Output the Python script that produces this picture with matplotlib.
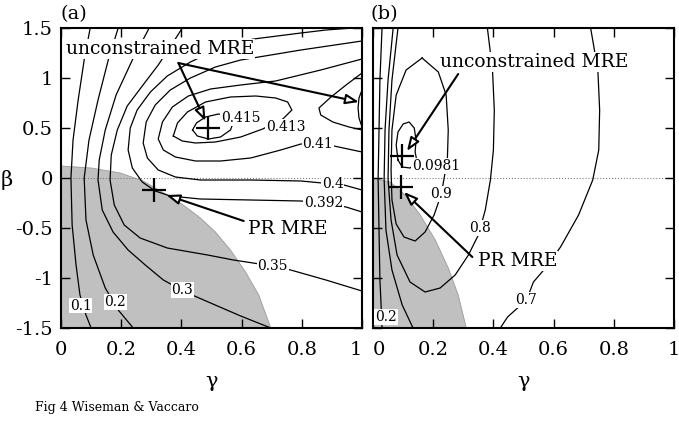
import matplotlib.pyplot as plt

plt.rcParams['font.family'] = ['DejaVu Serif']
plt.rcParams['axes.unicode_minus'] = False

# ---------------- panel (a): contour lines, (gamma, beta)
a010_g = [0.097, 0.077, 0.057, 0.04, 0.033, 0.037, 0.05, 0.063, 0.083, 0.1]
a010_b = [1.5, 1.18, 0.78, 0.38, 0.0, -0.47, -0.87, -1.17, -1.37, -1.5]

a020_g = [0.19, 0.157, 0.123, 0.093, 0.077, 0.083, 0.107, 0.147, 0.19, 0.24]
a020_b = [1.5, 1.18, 0.78, 0.38, 0.0, -0.42, -0.77, -1.10, -1.32, -1.5]

a030_g = [0.293, 0.237, 0.183, 0.147, 0.127, 0.123, 0.137, 0.173, 0.223, 0.28,
          0.34, 0.413, 0.497, 0.597, 0.697]
a030_b = [1.5, 1.18, 0.83, 0.48, 0.18, -0.02, -0.32, -0.54, -0.72, -0.87,
          -1.02, -1.14, -1.25, -1.38, -1.5]

a035_g = [0.403, 0.367, 0.323, 0.27, 0.22, 0.187, 0.167, 0.163, 0.177, 0.21,
          0.263, 0.353, 0.487, 0.573, 0.703, 0.763, 0.88, 1.0]
a035_b = [1.5, 1.33, 1.13, 0.92, 0.72, 0.48, 0.23, -0.02, -0.27, -0.47,
          -0.60, -0.70, -0.77, -0.82, -0.88, -0.92, -1.02, -1.13]

a0392_g = [0.97, 0.88, 0.797, 0.64, 0.597, 0.513, 0.43, 0.353, 0.297, 0.253, 0.23,
           0.223, 0.237, 0.27, 0.313, 0.363, 0.463, 0.63, 0.797, 0.873, 0.947, 1.0]
a0392_b = [1.5, 1.48, 1.45, 1.39, 1.36, 1.28, 1.16, 1.02, 0.86, 0.68, 0.50,
           0.28, 0.10, -0.04, -0.13, -0.18, -0.21, -0.22, -0.23, -0.25, -0.29, -0.34]

a040_g = [1.0, 0.797, 0.637, 0.597, 0.513, 0.43, 0.363, 0.313, 0.283, 0.273,
          0.287, 0.323, 0.38, 0.463, 0.63, 0.797, 0.903, 0.94, 1.0]
a040_b = [1.37, 1.28, 1.20, 1.18, 1.11, 1.0, 0.88, 0.73, 0.56, 0.35,
          0.20, 0.08, 0.01, -0.02, -0.02, -0.03, -0.06, -0.07, -0.12]

a041_g = [1.0, 0.863, 0.713, 0.597, 0.497, 0.423, 0.37, 0.337, 0.323, 0.34,
          0.38, 0.447, 0.53, 0.63, 0.73, 0.797, 0.853, 0.907, 1.0]
a041_b = [1.19, 1.08, 0.97, 0.93, 0.89, 0.82, 0.71, 0.56, 0.39, 0.28,
          0.21, 0.17, 0.17, 0.20, 0.28, 0.34, 0.34, 0.32, 0.26]

a0413_g = [0.373, 0.403, 0.447, 0.513, 0.597, 0.67, 0.737, 0.767, 0.753, 0.713,
           0.647, 0.563, 0.48, 0.42, 0.387, 0.373]
a0413_b = [0.42, 0.37, 0.35, 0.36, 0.41, 0.49, 0.59, 0.68, 0.76, 0.80,
           0.82, 0.81, 0.76, 0.66, 0.55, 0.42]

a0413r_g = [1.0, 0.947, 0.897, 0.857, 0.863, 0.903, 0.957, 1.0]
a0413r_b = [1.05, 0.93, 0.81, 0.70, 0.63, 0.56, 0.51, 0.48]

a0415_g = [0.437, 0.453, 0.49, 0.53, 0.563, 0.573, 0.557, 0.523, 0.48, 0.45, 0.437]
a0415_b = [0.48, 0.42, 0.39, 0.41, 0.48, 0.56, 0.62, 0.64, 0.61, 0.55, 0.48]

a0415r_g = [1.0, 0.99, 0.987, 0.99, 1.0]
a0415r_b = [0.88, 0.80, 0.70, 0.60, 0.51]

# edge of the shaded (constrained) region
grey_a_g = [0.0, 0.1, 0.197, 0.273, 0.33, 0.397, 0.463, 0.513, 0.563, 0.613, 0.657, 0.697]
grey_a_b = [0.12, 0.10, 0.05, -0.03, -0.13, -0.25, -0.40, -0.54, -0.72, -0.94, -1.17, -1.5]

lab_a_txt = ['0.1', '0.2', '0.3', '0.35', '0.392', '0.4', '0.41', '0.413', '0.415']
lab_a_g = [0.065, 0.18, 0.403, 0.703, 0.873, 0.903, 0.853, 0.747, 0.597]
lab_a_b = [-1.275, -1.24, -1.12, -0.88, -0.25, -0.06, 0.34, 0.51, 0.60]

mre_a = (0.49, 0.50)
pr_a = (0.31, -0.12)

# ---------------- panel (b)
b020_g = [0.03, 0.023, 0.02, 0.017, 0.02, 0.023, 0.027, 0.03]
b020_b = [1.5, 0.98, 0.48, -0.01, -0.52, -1.02, -1.28, -1.5]

b2_g = [0.067, 0.05, 0.04, 0.037, 0.043, 0.063, 0.097, 0.133]
b2_b = [1.5, 0.98, 0.48, -0.01, -0.52, -0.92, -1.27, -1.5]

b080_g = [0.083, 0.063, 0.053, 0.05, 0.06, 0.08, 0.123, 0.173, 0.223, 0.273,
          0.317, 0.35, 0.373, 0.39, 0.4, 0.403, 0.397, 0.38]
b080_b = [1.5, 0.98, 0.48, -0.01, -0.42, -0.77, -1.04, -1.14, -1.10, -0.97,
          -0.77, -0.57, -0.32, -0.02, 0.28, 0.68, 1.08, 1.5]

b090_g = [0.163, 0.217, 0.243, 0.25, 0.247, 0.227, 0.203, 0.173, 0.14, 0.103,
          0.077, 0.063, 0.06, 0.063, 0.077, 0.11, 0.163]
b090_b = [1.2, 1.06, 0.83, 0.48, 0.18, -0.16, -0.37, -0.54, -0.63, -0.59,
          -0.46, -0.22, 0.08, 0.48, 0.83, 1.08, 1.2]

b098_g = [0.083, 0.077, 0.083, 0.1, 0.12, 0.137, 0.143, 0.14, 0.147, 0.123, 0.097, 0.083]
b098_b = [0.18, 0.33, 0.46, 0.54, 0.56, 0.50, 0.38, 0.26, 0.15, 0.10, 0.11, 0.18]

b070_g = [0.723, 0.747, 0.753, 0.75, 0.73, 0.683, 0.623, 0.573, 0.533, 0.51, 0.447, 0.423]
b070_b = [1.5, 1.08, 0.68, 0.28, -0.02, -0.37, -0.69, -0.90, -1.04, -1.22, -1.39, -1.5]

grey_b_g = [0.0, 0.057, 0.107, 0.157, 0.207, 0.25, 0.283, 0.31]
grey_b_b = [0.0, -0.04, -0.17, -0.37, -0.62, -0.90, -1.17, -1.5]

lab_b_txt = ['0.0981', '0.9', '0.8', '0.7', '0.2']
lab_b_g = [0.21, 0.227, 0.357, 0.51, 0.043]
lab_b_b = [0.12, -0.16, -0.50, -1.22, -1.39]

mre_b = (0.097, 0.22)
pr_b = (0.093, -0.09)

xticks = [0, 0.2, 0.4, 0.6, 0.8, 1]
xticklab = ['0', '0.2', '0.4', '0.6', '0.8', '1']
yticks = [-1.5, -1, -0.5, 0, 0.5, 1, 1.5]
yticklab = ['-1.5', '-1', '-0.5', '0', '0.5', '1', '1.5']


def marco(ax):
    ax.set_xlim(0, 1)
    ax.set_ylim(-1.5, 1.5)
    ax.set_xticks(xticks)
    ax.set_yticks(yticks)
    ax.set_xticklabels(xticklab)
    ax.set_yticklabels(yticklab)
    ax.tick_params(direction='in', top=True, right=True, length=6.5, width=1,
                   labelsize=14)
    ax.tick_params(axis='x', pad=9)
    ax.tick_params(axis='y', pad=6)
    for s in ax.spines.values():
        s.set_linewidth(1.5)
    ax.axhline(0, color='grey', lw=0.8, ls=':', zorder=1.5)


def sombra(ax, g, b):
    ax.fill(list(g) + [g[-1], 0], list(b) + [-1.5, -1.5], color='#c0c0c0', lw=0, zorder=1)
    ax.plot(g, b, color='#9a9a9a', lw=0.6, zorder=1.2)


def curva(ax, g, b):
    ax.plot(g, b, color='black', lw=0.9, zorder=2, solid_joinstyle='round')


def etiquetas(ax, txt, g, b):
    for t, x, y in zip(txt, g, b):
        ax.text(x, y, t, fontsize=10, ha='center', va='center', zorder=3,
                bbox=dict(boxstyle='square,pad=0.05', fc='white', ec='none'))


def flecha(ax, tip, start):
    ax.annotate('', xy=tip, xytext=start, zorder=5,
                arrowprops=dict(arrowstyle='-|>,head_length=0.8,head_width=0.3',
                                fc='white', ec='black', lw=1.5,
                                shrinkA=0, shrinkB=0, mutation_scale=10))


def texto(ax, x, y, t):
    ax.text(x, y, t, fontsize=13.5, ha='center', va='center', zorder=6,
            bbox=dict(boxstyle='square,pad=0.05', fc='white', ec='none'))


fig = plt.figure(figsize=(6.79, 4.36), dpi=100)
ax1 = fig.add_axes([61 / 679, 1 - 328 / 436, 301 / 679, 300 / 436])
ax2 = fig.add_axes([373 / 679, 1 - 328 / 436, 301 / 679, 300 / 436])

# ---- (a)
marco(ax1)
sombra(ax1, grey_a_g, grey_a_b)
for g, b in [(a010_g, a010_b), (a020_g, a020_b), (a030_g, a030_b), (a035_g, a035_b),
             (a0392_g, a0392_b), (a040_g, a040_b), (a041_g, a041_b),
             (a0413_g, a0413_b), (a0413r_g, a0413r_b), (a0415_g, a0415_b),
             (a0415r_g, a0415r_b)]:
    curva(ax1, g, b)
etiquetas(ax1, lab_a_txt, lab_a_g, lab_a_b)
ax1.plot(*mre_a, marker='+', ms=17, mew=1.6, color='black', zorder=4)
ax1.plot(*pr_a, marker='+', ms=17, mew=1.6, color='black', zorder=4)
flecha(ax1, (0.48, 0.57), (0.39, 1.15))
flecha(ax1, (0.99, 0.76), (0.39, 1.15))
flecha(ax1, (0.35, -0.17), (0.607, -0.43))
texto(ax1, 0.33, 1.29, 'unconstrained MRE')
texto(ax1, 0.753, -0.51, 'PR MRE')
labs = ax1.get_xticklabels()
labs[-1].set_horizontalalignment('right')

# ---- (b)
marco(ax2)
ax2.set_yticklabels([])
sombra(ax2, grey_b_g, grey_b_b)
for g, b in [(b020_g, b020_b), (b2_g, b2_b), (b080_g, b080_b), (b090_g, b090_b),
             (b098_g, b098_b), (b070_g, b070_b)]:
    curva(ax2, g, b)
etiquetas(ax2, lab_b_txt, lab_b_g, lab_b_b)
ax2.plot(*mre_b, marker='+', ms=17, mew=1.6, color='black', zorder=4)
ax2.plot(*pr_b, marker='+', ms=17, mew=1.6, color='black', zorder=4)
flecha(ax2, (0.113, 0.27), (0.283, 1.04))
flecha(ax2, (0.103, -0.14), (0.33, -0.79))
texto(ax2, 0.537, 1.16, 'unconstrained MRE')
texto(ax2, 0.48, -0.83, 'PR MRE')
labs = ax2.get_xticklabels()
labs[0].set_horizontalalignment('left')

fig.text(7 / 679, 1 - 180 / 436, 'β', fontsize=15, ha='center', va='center')
fig.text(212 / 679, 1 - 381 / 436, 'γ', fontsize=15, ha='center', va='center')
fig.text(523 / 679, 1 - 381 / 436, 'γ', fontsize=15, ha='center', va='center')
fig.text(60 / 679, 1 - 14 / 436, '(a)', fontsize=14, ha='left', va='center')
fig.text(371 / 679, 1 - 14 / 436, '(b)', fontsize=14, ha='left', va='center')
fig.text(35 / 679, 1 - 407 / 436, 'Fig 4 Wiseman & Vaccaro', fontsize=9,
         ha='left', va='center')

fig.savefig('out.png', dpi=100)
